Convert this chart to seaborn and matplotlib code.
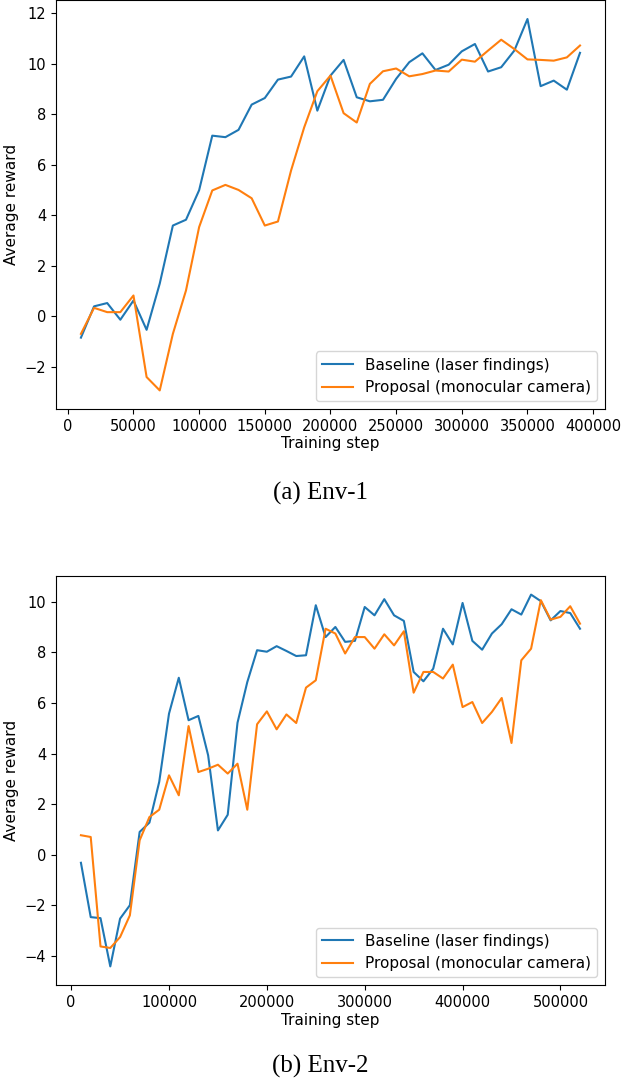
import matplotlib

matplotlib.use("Agg")
import matplotlib.pyplot as plt
import pandas as pd
import seaborn as sns

# Env-1: steps 10000..390000
env1_steps = list(range(10000, 400000, 10000))
env1_baseline = [
    -0.84, 0.40, 0.53, -0.13, 0.63, -0.53, 1.30, 3.60, 3.83, 5.00,
    7.16, 7.10, 7.39, 8.39, 8.65, 9.38, 9.50, 10.30, 8.15, 9.54,
    10.16, 8.68, 8.52, 8.58, 9.41, 10.07, 10.42, 9.76, 9.97, 10.50,
    10.79, 9.70, 9.87, 10.53, 11.78, 9.12, 9.34, 8.98, 10.44,
]
env1_proposal = [
    -0.69, 0.34, 0.17, 0.17, 0.83, -2.40, -2.93, -0.69, 1.03, 3.54,
    4.99, 5.21, 5.01, 4.68, 3.60, 3.76, 5.78, 7.49, 8.92, 9.54,
    8.05, 7.68, 9.21, 9.71, 9.82, 9.51, 9.60, 9.74, 9.70, 10.17,
    10.09, 10.53, 10.96, 10.59, 10.18, 10.16, 10.13, 10.26, 10.73,
]

# Env-2: steps 10000..520000
env2_steps = list(range(10000, 530000, 10000))
env2_baseline = [
    -0.32, -2.47, -2.51, -4.42, -2.53, -2.00, 0.90, 1.27, 2.88, 5.58,
    7.00, 5.32, 5.49, 3.93, 0.96, 1.58, 5.22, 6.83, 8.09, 8.03,
    8.25, 8.06, 7.86, 7.89, 9.87, 8.61, 9.01, 8.42, 8.46, 9.80,
    9.47, 10.11, 9.47, 9.25, 7.23, 6.86, 7.36, 8.94, 8.32, 9.96,
    8.46, 8.11, 8.75, 9.12, 9.71, 9.50, 10.29, 10.03, 9.27, 9.64,
    9.56, 8.94,
]
env2_proposal = [
    0.77, 0.70, -3.63, -3.69, -3.26, -2.40, 0.57, 1.49, 1.78, 3.14,
    2.35, 5.09, 3.27, 3.40, 3.56, 3.21, 3.60, 1.78, 5.16, 5.67,
    4.96, 5.55, 5.21, 6.61, 6.90, 8.94, 8.75, 7.96, 8.61, 8.61,
    8.15, 8.72, 8.28, 8.84, 6.41, 7.23, 7.23, 6.97, 7.52, 5.84,
    6.04, 5.21, 5.65, 6.20, 4.42, 7.69, 8.15, 10.07, 9.30, 9.41,
    9.83, 9.14,
]

series_names = ["Baseline (laser findings)", "Proposal (monocular camera)"]
captions = ["(a) Env-1", "(b) Env-2"]


def to_frame(steps, baseline, proposal):
    return pd.concat([
        pd.DataFrame({"step": steps, "reward": baseline, "method": series_names[0]}),
        pd.DataFrame({"step": steps, "reward": proposal, "method": series_names[1]}),
    ])


fig = plt.figure(figsize=(6.22, 10.86), dpi=100)
ax_top = fig.add_axes([0.090, 0.6234, 0.8826, 0.3762])
ax_bot = fig.add_axes([0.090, 0.0930, 0.8826, 0.3766])

frames = [
    to_frame(env1_steps, env1_baseline, env1_proposal),
    to_frame(env2_steps, env2_baseline, env2_proposal),
]

for ax, df in zip([ax_top, ax_bot], frames):
    sns.lineplot(
        data=df, x="step", y="reward", hue="method",
        palette=["#1f77b4", "#ff7f0e"], linewidth=1.5, ax=ax,
    )
    ax.set_xlabel("Training step", fontsize=11, labelpad=2)
    ax.set_ylabel("Average reward", fontsize=11)
    ax.tick_params(labelsize=10.5)
    ax.legend(loc="lower right", fontsize=11)

fig.text(0.515, 1 - 493 / 1086, captions[0], ha="center", va="center",
         family="Liberation Serif", size=18)
fig.text(0.515, 1 - 1066 / 1086, captions[1], ha="center", va="center",
         family="Liberation Serif", size=18)

fig.savefig("out.png", dpi=100)
